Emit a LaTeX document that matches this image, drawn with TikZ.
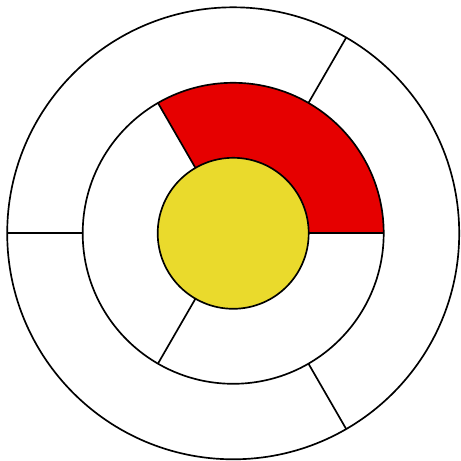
\documentclass[tikz,border=0pt]{standalone}
\definecolor{sectorred}{RGB}{230,0,0}
\definecolor{coreyellow}{RGB}{234,218,44}
\begin{document}
\begin{tikzpicture}[line width=0.95pt]
        \useasboundingbox (-4.664,-4.554) rectangle (4.536,4.666);

        \fill[sectorred] (0:1.51) -- (0:3.01) arc (0:120:3.01) -- (120:1.51) arc (120:0:1.51) -- cycle;

        \draw (0,0) circle (4.52);
        \draw (0,0) circle (3.01);
        \draw[fill=coreyellow] (0,0) circle (1.51);

        \foreach \a in {0,120,240}
            \draw (\a:1.51) -- (\a:3.01);
        \foreach \a in {60,180,300}
            \draw (\a:3.01) -- (\a:4.52);
\end{tikzpicture}
\end{document}
